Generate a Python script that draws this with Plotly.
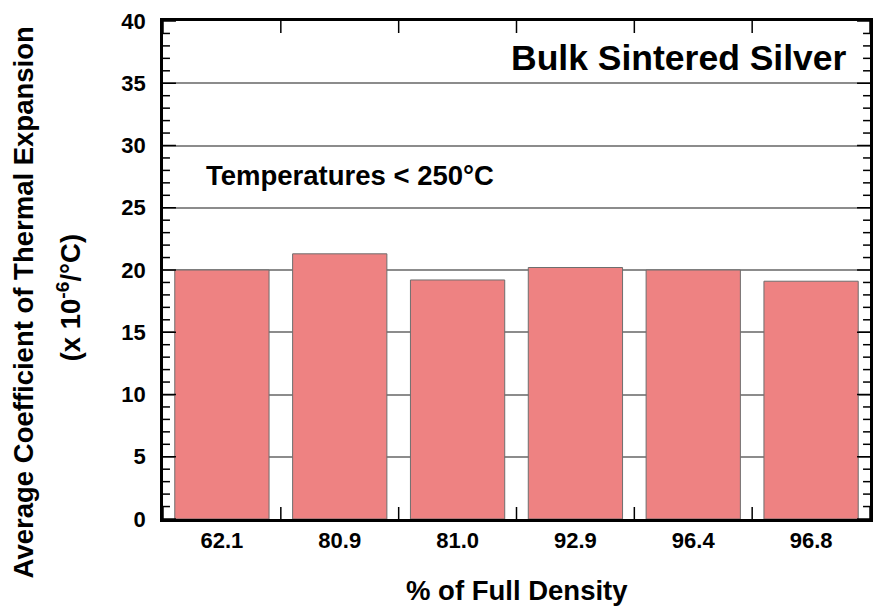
import plotly.graph_objects as go

# Relative density of each sintered sample (% of full density)
densities = ["62.1", "80.9", "81.0", "92.9", "96.4", "96.8"]
# Average CTE (x 10^-6 /°C) below 250 °C
cte_values = [20.0, 21.3, 19.2, 20.2, 20.0, 19.1]

FONT = "Liberation Sans, Arial, Helvetica, sans-serif"
Y_MAX = 40
MAJOR_STEP = 5
n = len(densities)
positions = list(range(n))
X_RANGE = [-0.5, n - 0.5]

WIDTH, HEIGHT = 875, 611
MARGIN = dict(l=163, r=2, t=21, b=92)
plot_w = WIDTH - MARGIN["l"] - MARGIN["r"]
plot_h = HEIGHT - MARGIN["t"] - MARGIN["b"]
# axis units per screen pixel, used to give tick marks a fixed pixel length
x_per_px = (X_RANGE[1] - X_RANGE[0]) / plot_w
y_per_px = Y_MAX / plot_h

boundaries = [i - 0.5 for i in range(n + 1)]
major_vals = list(range(0, Y_MAX + 1, MAJOR_STEP))
minor_vals = [v for v in range(0, Y_MAX + 1) if v % MAJOR_STEP]

fig = go.Figure(go.Bar(
    x=positions,
    y=cte_values,
    width=0.8,
    marker=dict(color="rgb(238,130,130)",
                line=dict(color="rgb(110,110,110)", width=1)),
    customdata=densities,
    hovertemplate="%{customdata}: %{y}<extra></extra>",
))

# inward tick marks on all four sides of the frame, as one line trace
tx, ty = [], []
xlen = 12 * y_per_px
for b in boundaries:
    tx += [b, b, None, b, b, None]
    ty += [0, xlen, None, Y_MAX, Y_MAX - xlen, None]
for vals, length in ((major_vals, 13), (minor_vals, 7)):
    d = length * x_per_px
    for v in vals:
        tx += [X_RANGE[0], X_RANGE[0] + d, None, X_RANGE[1], X_RANGE[1] - d, None]
        ty += [v, v, None, v, v, None]
fig.add_trace(go.Scatter(x=tx, y=ty, mode="lines",
                         line=dict(color="black", width=1.5),
                         hoverinfo="skip", showlegend=False, cliponaxis=False))

tick_font = dict(family=FONT, size=22, weight="bold", color="black")

fig.update_layout(
    width=WIDTH,
    height=HEIGHT,
    margin=MARGIN,
    paper_bgcolor="white",
    plot_bgcolor="white",
    showlegend=False,
    font=dict(family=FONT, color="black"),
    xaxis=dict(
        range=X_RANGE, tickmode="array", tickvals=positions, ticktext=densities,
        ticks="", showline=True, linewidth=2.5, linecolor="black", mirror=True,
        showgrid=False, zeroline=False, tickfont=tick_font,
    ),
    yaxis=dict(
        range=[0, Y_MAX], dtick=MAJOR_STEP, ticks="",
        showline=True, linewidth=2.5, linecolor="black", mirror=True,
        showgrid=True, gridcolor="rgb(140,140,140)", gridwidth=2,
        zeroline=False, tickfont=tick_font, ticklabelstandoff=10,
    ),
)

annotations = [
    dict(text="Bulk Sintered Silver", x=0.970, y=0.9257,
         xanchor="right", yanchor="middle", font=dict(size=35.5, weight="bold")),
    dict(text="Temperatures < 250°C", x=0.0575, y=0.6888,
         xanchor="left", yanchor="middle", font=dict(size=27.5, weight="bold")),
    dict(text="% of Full Density", x=0.5, y=-0.1426,
         xanchor="center", yanchor="middle", font=dict(size=27.5, weight="bold")),
    dict(text="Average Coefficient of Thermal Expansion", x=-0.198, y=0.435,
         xanchor="center", yanchor="middle", textangle=-90,
         font=dict(size=27.5, weight="bold")),
    dict(text="(x 10<sup>-6</sup>/°C)", x=-0.133, y=0.445,
         xanchor="center", yanchor="middle", textangle=-90,
         font=dict(size=27.5, weight="bold")),
]
for a in annotations:
    a.update(xref="paper", yref="paper", showarrow=False)
    a["font"]["family"] = FONT
    a["font"]["color"] = "black"
fig.update_layout(annotations=annotations)

fig.write_html("out.html")
